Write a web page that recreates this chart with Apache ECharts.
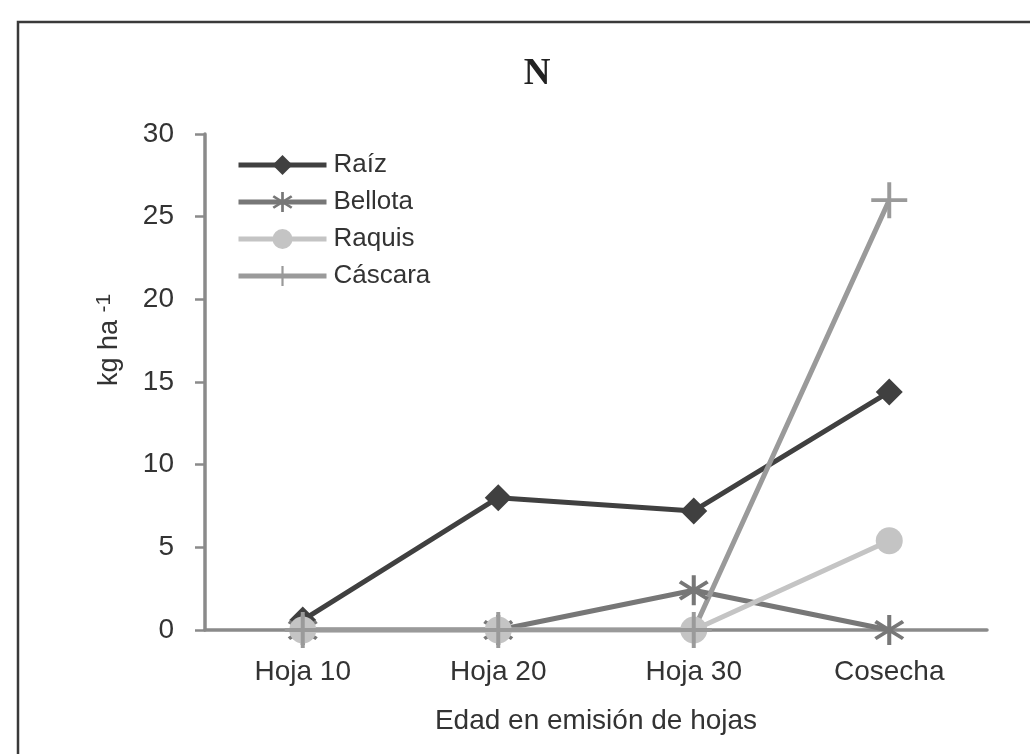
<!DOCTYPE html>
<html>
<head>
<meta charset="utf-8">
<script src="https://cdn.jsdelivr.net/npm/echarts@6/dist/echarts.min.js"></script>
<style>
  html, body { margin: 0; padding: 0; background: #fff; }
  #chart { width: 1030px; height: 754px; }
</style>
</head>
<body>
<div id="chart"></div>
<script>
// Nitrogen (N) accumulation by plant organ across leaf-emission stages
const categories = ['Hoja 10', 'Hoja 20', 'Hoja 30', 'Cosecha'];
const raiz     = [0.6, 8.0, 7.2, 14.4];
const bellota  = [0, 0, 2.4, 0];
const raquis   = [0, 0, 0, 5.4];
const cascara  = [0, 0, 0, 26.0];
const yTicks   = [0, 5, 10, 15, 20, 25, 30];

// Filled-bar path for an asterisk marker (vertical bar plus two diagonals)
function barPoly(angleDeg, half, len) {
  const a = angleDeg * Math.PI / 180;
  const c = Math.cos(a), s = Math.sin(a);
  const pts = [[-half, -len], [half, -len], [half, len], [-half, len]].map(
    ([x, y]) => [(x * c - y * s).toFixed(2), (x * s + y * c).toFixed(2)]
  );
  return 'M' + pts.map(p => p.join(',')).join(' L') + ' Z';
}
const asteriskPath = 'path://' + [barPoly(0, 1.2, 10), barPoly(55, 1.2, 10), barPoly(-55, 1.2, 10)].join(' ');
const plusPath = 'path://M-1.1,-10 L1.1,-10 L1.1,-1.1 L10,-1.1 L10,1.1 L1.1,1.1 L1.1,10 L-1.1,10 L-1.1,1.1 L-10,1.1 L-10,-1.1 L-1.1,-1.1 Z';

const sansFont = '"Liberation Sans", Arial, Helvetica, sans-serif';
const textColor = '#333333';

function lineSeries(name, data, color, symbol, size) {
  return {
    name: name,
    type: 'line',
    data: data,
    symbol: symbol,
    symbolSize: size,
    showAllSymbol: true,
    lineStyle: { color: color, width: 5 },
    itemStyle: { color: color, borderWidth: 0 },
    emphasis: { disabled: true },
    animation: false,
    z: 3
  };
}

const chart = echarts.init(document.getElementById('chart'), null, { renderer: 'canvas' });
chart.setOption({
  backgroundColor: '#ffffff',
  animation: false,
  graphic: [{
    type: 'rect',
    shape: { x: 18, y: 22, width: 1040, height: 760 },
    style: { fill: 'none', stroke: '#3a3a3a', lineWidth: 2.5 },
    silent: true,
    z: 0
  }],
  title: {
    text: 'N',
    left: 532,
    top: 51,
    textAlign: 'center',
    textStyle: { fontFamily: '"Liberation Serif", "DejaVu Serif", serif', fontWeight: 'bold', fontSize: 37, color: '#222' }
  },
  legend: {
    orient: 'vertical',
    left: 231,
    top: 147,
    itemWidth: 88,
    itemHeight: 25,
    itemGap: 11,
    lineStyle: { width: 5 },
    textStyle: { fontFamily: sansFont, fontSize: 26, color: textColor, padding: [0, 0, 0, 2] },
    data: ['Raíz', 'Bellota', 'Raquis', 'Cáscara']
  },
  grid: { left: 205, right: 43, top: 134, bottom: 124, containLabel: false },
  xAxis: {
    type: 'category',
    data: categories,
    boundaryGap: true,
    name: 'Edad en emisión de hojas',
    nameLocation: 'middle',
    nameGap: 77,
    nameTextStyle: { fontFamily: sansFont, fontSize: 28, color: textColor },
    axisLine: { lineStyle: { color: '#8a8a8a', width: 3.5 } },
    axisTick: { show: false },
    axisLabel: { fontFamily: sansFont, fontSize: 28, color: textColor, margin: 28 },
    splitLine: { show: false }
  },
  yAxis: {
    type: 'value',
    min: yTicks[0],
    max: yTicks[yTicks.length - 1],
    interval: yTicks[1] - yTicks[0],
    name: '{b|kg ha }{s|-1}',
    nameLocation: 'middle',
    nameGap: 80,
    nameRotate: 90,
    nameTextStyle: {
      padding: [0, 0, 0, 84],
      rich: {
        b: { fontFamily: sansFont, fontSize: 27, color: textColor },
        s: { fontFamily: sansFont, fontSize: 21, color: textColor, verticalAlign: 'top', padding: [0, 0, 10, 0] }
      }
    },
    axisLine: { show: true, lineStyle: { color: '#8a8a8a', width: 3.5 } },
    axisTick: { show: true, inside: false, length: 10, lineStyle: { color: '#8a8a8a', width: 2.5 } },
    axisLabel: { fontFamily: sansFont, fontSize: 28, color: textColor, margin: 31 },
    splitLine: { show: false }
  },
  series: [
    lineSeries('Raíz', raiz, '#404040', 'diamond', 27),
    lineSeries('Bellota', bellota, '#777777', asteriskPath, 30),
    lineSeries('Raquis', raquis, '#c4c4c4', 'circle', 27),
    lineSeries('Cáscara', cascara, '#9a9a9a', plusPath, 36)
  ]
});
</script>
</body>
</html>
